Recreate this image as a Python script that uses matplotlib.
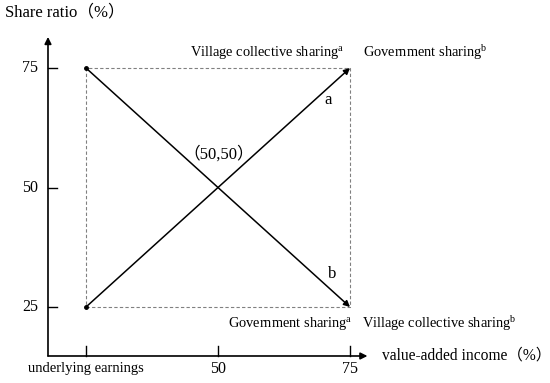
import matplotlib.pyplot as plt

plt.rcParams['font.family'] = ['Liberation Serif', 'Noto Sans CJK SC']
plt.rcParams['mathtext.fontset'] = 'custom'
plt.rcParams['mathtext.rm'] = 'Liberation Serif'

x_ticks = [25, 50, 75]
x_labels = ['underlying earnings', '50', '75']
y_ticks = [25, 50, 75]
y_labels = ['25', '50', '75']
line_a_x = [25, 75]
line_a_y = [25, 75]
line_b_x = [25, 75]
line_b_y = [75, 25]

fig = plt.figure(figsize=(5.5, 3.83), dpi=100)
ax = fig.add_axes([0, 0, 1, 1])
ax.set_xlim(8.71, 112.88)
ax.set_ylim(9.1, 89.23)
ax.axis('off')

# axes with arrows
x0, y0 = 17.8, 14.75
ax.annotate('', xy=(78.3, y0), xytext=(x0, y0),
            arrowprops=dict(arrowstyle='-|>', color='black', lw=1.2, mutation_scale=10, shrinkA=0, shrinkB=0))
ax.annotate('', xy=(x0, 81.5), xytext=(x0, y0),
            arrowprops=dict(arrowstyle='-|>', color='black', lw=1.2, mutation_scale=10, shrinkA=0, shrinkB=0))

# ticks
for xt, lab in zip(x_ticks, x_labels):
    ax.plot([xt, xt], [y0, y0 + 2.1], color='black', lw=1)
    fs = 10.5 if xt == 25 else 11.5
    ax.text(xt, 12.1, lab, ha='center', va='center', fontsize=fs)
for yt, lab in zip(y_ticks, y_labels):
    ax.plot([x0, x0 + 1.8], [yt, yt], color='black', lw=1)
    ax.text(15.9, yt, lab, ha='right', va='center', fontsize=11.5)

# dashed box
ax.plot([25, 75, 75, 25, 25], [25, 25, 75, 75, 25], color='gray', lw=0.8, ls=(0, (3, 2)))

# diagonal lines
ax.annotate('', xy=(line_a_x[1], line_a_y[1]), xytext=(line_a_x[0], line_a_y[0]),
            arrowprops=dict(arrowstyle='-|>', color='black', lw=1.1, mutation_scale=9, shrinkA=0, shrinkB=0))
ax.annotate('', xy=(line_b_x[1], line_b_y[1]), xytext=(line_b_x[0], line_b_y[0]),
            arrowprops=dict(arrowstyle='-|>', color='black', lw=1.1, mutation_scale=9, shrinkA=0, shrinkB=0))
ax.plot([line_a_x[0], line_b_x[0]], [line_a_y[0], line_b_y[0]], 'o', color='black', ms=2.5)

# labels
ax.text(9.66, 86.7, 'Share ratio（%）', ha='left', va='center', fontsize=12)
ax.text(81.0, 14.9, 'value-added income（%）', ha='left', va='center', fontsize=11.2)
ax.text(74.0, 78.3, 'Village collective sharing$\\mathregular{^a}$', ha='right', va='center', fontsize=10.4)
ax.text(77.45, 78.3, 'Government sharing$\\mathregular{^b}$', ha='left', va='center', fontsize=10.4)
ax.text(75.4, 21.6, 'Government sharing$\\mathregular{^a}$', ha='right', va='center', fontsize=10.4)
ax.text(77.3, 21.6, 'Village collective sharing$\\mathregular{^b}$', ha='left', va='center', fontsize=10.4)
ax.text(70.8, 68.3, 'a', ha='center', va='center', fontsize=12)
ax.text(71.6, 31.9, 'b', ha='center', va='center', fontsize=12)
ax.text(50.2, 57.0, '（50,50）', ha='center', va='center', fontsize=12)

fig.savefig('out.png', dpi=100)
